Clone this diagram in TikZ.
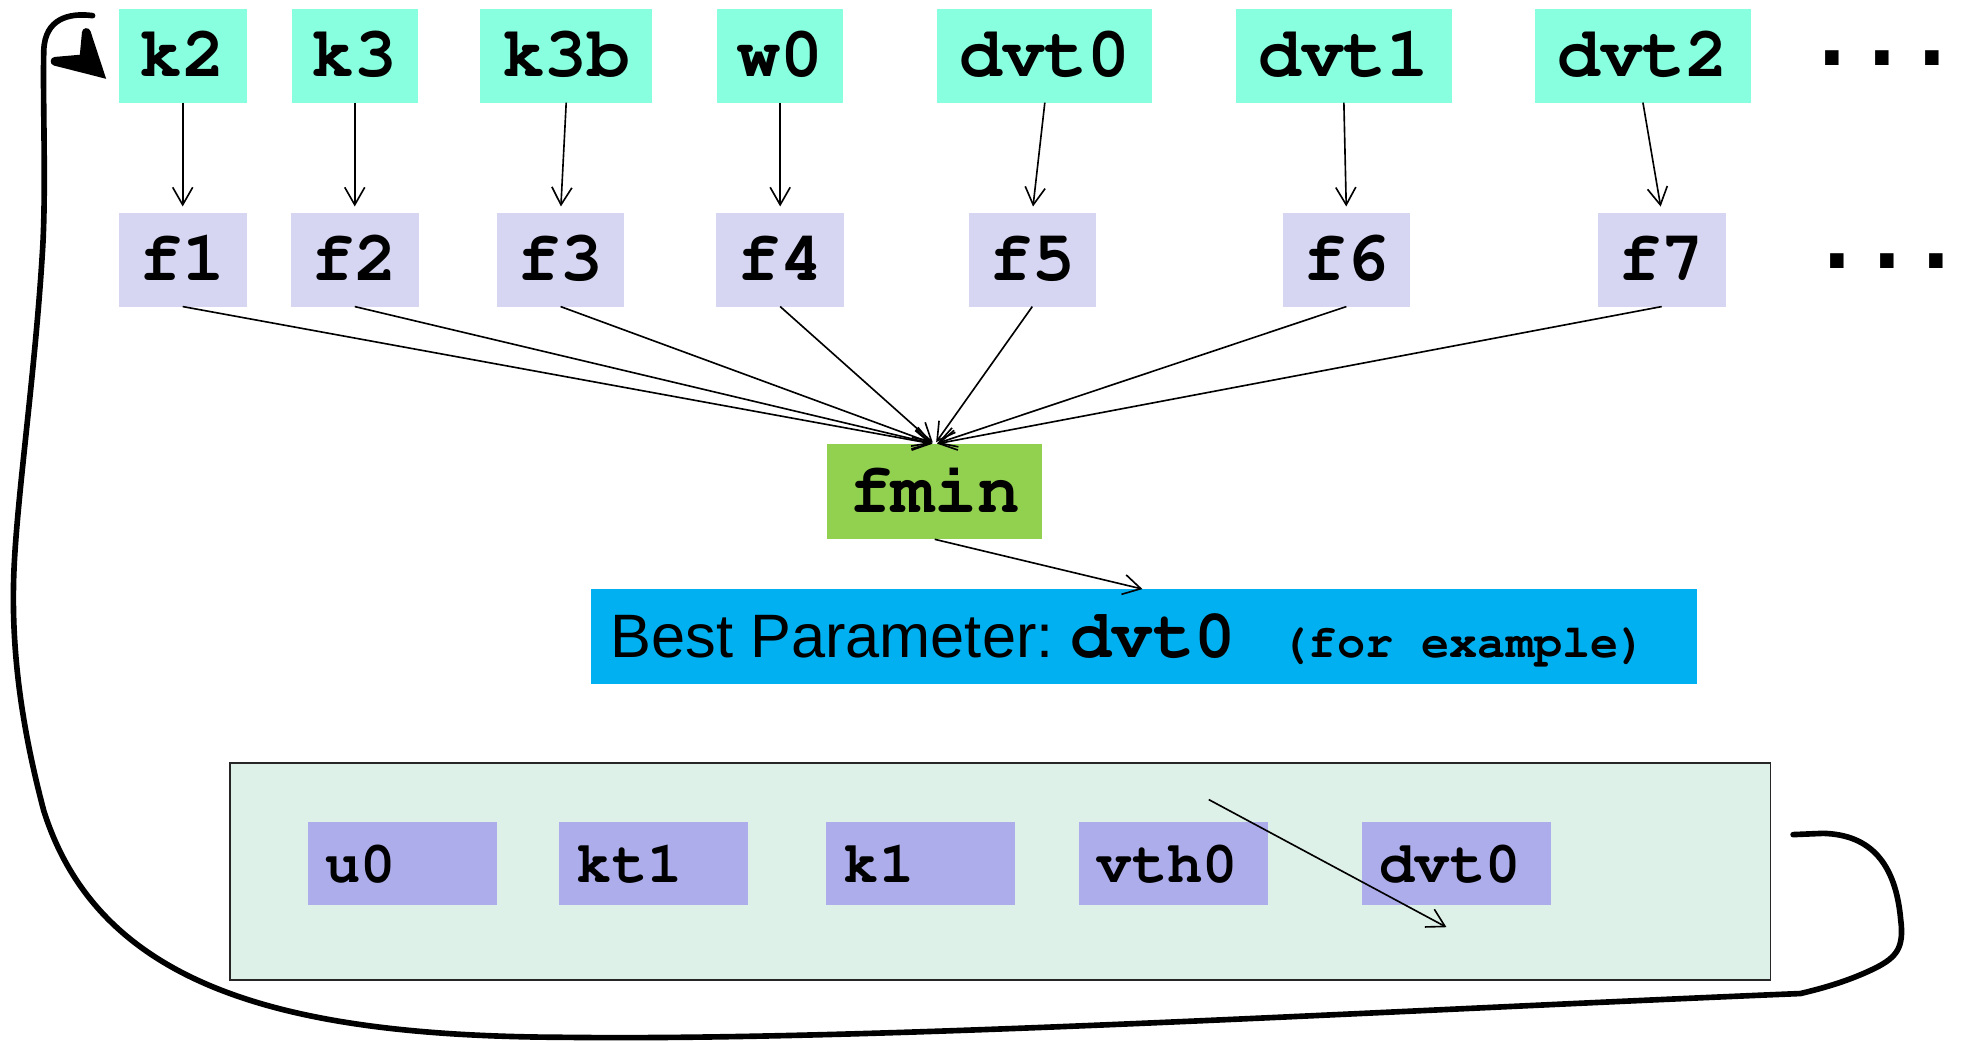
\documentclass[tikz,border=0pt]{standalone}
\usepackage[T1,TU]{fontenc}
\usepackage{fontspec}
\setmainfont{Liberation Sans}
\newfontfamily\dotsface{DejaVu Sans Mono}
\usetikzlibrary{arrows.meta}

% bold Courier-style typewriter face at several sizes
\newcommand\boldcour{\fontencoding{T1}\fontfamily{pcr}\fontseries{b}\selectfont}
\newcommand\parfont{\boldcour\fontsize{57}{60}\selectfont}
\newcommand\innerfont{\boldcour\fontsize{47}{50}\selectfont}
\newcommand\bestmono{\boldcour\fontsize{55}{58}\selectfont}
\newcommand\exfont{\boldcour\fontsize{37.5}{40}\selectfont}
\newcommand\dotsfont{\dotsface\bfseries\fontsize{66}{70}\selectfont}

\definecolor{topcol}{RGB}{136,255,222}
\definecolor{fcol}{RGB}{214,214,243}
\definecolor{fmincol}{RGB}{146,208,80}
\definecolor{bestcol}{RGB}{0,176,240}
\definecolor{bigcol}{RGB}{222,241,232}
\definecolor{incol}{RGB}{173,173,235}

\begin{document}
\begin{tikzpicture}[x=1pt,y=-1pt,
  every node/.style={inner sep=0pt, outer sep=0pt},
  topbox/.style={fill=topcol, minimum height=75pt, text height=33pt, text depth=0pt, font=\parfont},
  fbox/.style={fill=fcol, minimum height=75pt, minimum width=102pt, text height=33pt, text depth=0pt, font=\parfont},
  inbox/.style={fill=incol, minimum height=66pt, text width=123pt, inner xsep=14pt, align=left, text height=30pt, text depth=0pt, font=\innerfont},
  morenode/.style={anchor=base, font=\dotsfont},
  thin arrow/.style={-{Straight Barb[length=14pt,width=16pt]}, line width=1.3pt},
  loopline/.style={line width=4.5pt, line cap=round, line join=round},
]
\useasboundingbox (0,0) rectangle (1568,832);

% parameter row
\node[topbox, minimum width=102pt] (k2)   at (146,44.5)   {k2};
\node[topbox, minimum width=101pt] (k3)   at (283.5,44.5) {k3};
\node[topbox, minimum width=137pt] (k3b)  at (452.5,44.5) {k3b};
\node[topbox, minimum width=101pt] (w0)   at (623.5,44.5) {w0};
\node[topbox, minimum width=172pt] (dvt0) at (835,44.5)   {dvt0};
\node[topbox, minimum width=172pt] (dvt1) at (1074,44.5)  {dvt1};
\node[topbox, minimum width=172pt] (dvt2) at (1313,44.5)  {dvt2};
\node[morenode] (moreA) at (1504.5,52.5) {...};

% function row
\node[fbox] (f1) at (146,207.5)   {f1};
\node[fbox] (f2) at (283.5,207.5) {f2};
\node[fbox] (f3) at (448,207.5)   {f3};
\node[fbox] (f4) at (623.5,207.5) {f4};
\node[fbox] (f5) at (825,207.5)   {f5};
\node[fbox] (f6) at (1076,207.5)  {f6};
\node[fbox] (f7) at (1328,207.5)  {f7};
\node[morenode] (moreB) at (1508,214.5) {...};

% minimiser and result
\node[fill=fmincol, minimum width=172pt, minimum height=76pt, text height=33pt, text depth=0pt, font=\parfont] (fmin) at (747,393) {fmin};
\node[fill=bestcol, minimum width=884pt, minimum height=76pt, text width=852pt, inner xsep=16pt, align=left, text height=33pt, text depth=0pt] (best) at (914,509)
  {\fontsize{49}{55}\selectfont Best\hspace{13.6pt}Parameter:\hspace{13.6pt}{\bestmono dvt0}\hspace{36pt}{\exfont(for\hspace{22.5pt}example)}};

% parameter list after the swap
\node[fill=bigcol, draw=black!85, line width=1.3pt, minimum width=1231pt, minimum height=173pt] (list) at (799.5,696.5) {};
\node[inbox] (u0)    at (321.5,690) {u0};
\node[inbox] (kt1)   at (522.5,690) {kt1};
\node[inbox] (k1)    at (736,690)   {k1};
\node[inbox] (vth0)  at (938,690)   {vth0};
\node[inbox] (ldvt0) at (1164,690)  {dvt0};

% connectors
\foreach \a/\b in {k2/f1,k3/f2,k3b/f3,w0/f4,dvt0/f5,dvt1/f6,dvt2/f7}
  \draw[thin arrow, shorten >=5pt] (\a.south) -- (\b.north);
\foreach \b in {f1,f2,f3,f4,f5,f6,f7}
  \draw[thin arrow, shorten >=2pt] (\b.south) -- (fmin.north);
\draw[thin arrow, shorten >=1pt] (fmin.south) -- (best.north);

\coordinate (swapfrom) at (966,639);
\coordinate (swapto) at (1156,741);
\draw[thin arrow] (swapfrom) -- (swapto);

% feedback loop back to the first parameter
\coordinate (loopstart) at (1433,667);
\coordinate (loopkink) at (1439,794);
\coordinate (loopend) at (74,12.5);
\draw[loopline] (loopstart) -- (1457,666)
  .. controls (1495,667) and (1515,690) .. (1519,735)
  .. controls (1522,758) and (1515,765) .. (1500,773)
  .. controls (1480,783) and (1460,789) .. (loopkink)
  .. controls (1100,808) and (700,832) .. (450,829)
  .. controls (230,828) and (80,790) .. (35,648)
  .. controls (17,580) and (9,520) .. (11,460)
  .. controls (13,400) and (28,300) .. (34,200)
  .. controls (37,150) and (34,80) .. (35,40)
  .. controls (36,15) and (55,10) .. (loopend);

% hand-drawn arrowhead beside k2
\filldraw[line width=7pt, line join=round] (69,26) -- (79.5,58) -- (44,49) -- (67,47) -- cycle;
\fill (79.5,58) -- (82.8,56.9) -- (84.8,63) -- (78.6,61.4) -- cycle;
\end{tikzpicture}
\end{document}
